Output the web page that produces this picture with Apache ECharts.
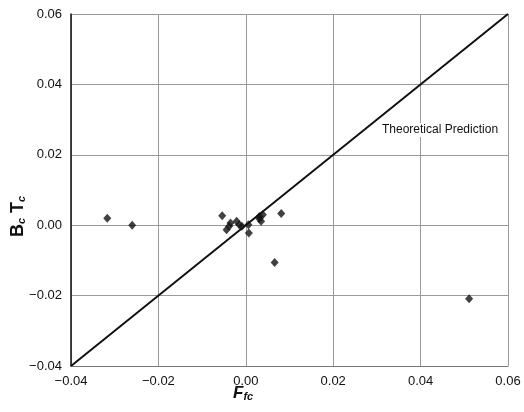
<!DOCTYPE html>
<html><head><meta charset="utf-8">
<script src="https://cdn.jsdelivr.net/npm/echarts@6/dist/echarts.min.js"></script>
<style>html,body{margin:0;padding:0;background:#fff}#c{width:524px;height:412px}</style>
</head><body><div id="c"></div>
<script>
const xTicks = [-0.04, -0.02, 0.00, 0.02, 0.04, 0.06];
const yTicks = [-0.04, -0.02, 0.00, 0.02, 0.04, 0.06];
const ffc = [-0.0317, -0.0260, 0.0511, 0.0066, 0.0081, -0.0054, -0.0044, -0.0038, -0.0035, -0.0021, -0.0015, -0.0009, 0.0006, 0.0007, 0.0031, 0.0035, 0.0039, 0.0031];
const bctc = [0.0020, 0.0000, -0.0209, -0.0106, 0.0033, 0.0027, -0.0013, -0.0003, 0.0006, 0.0011, 0.0001, -0.0003, 0.0001, -0.0022, 0.0018, 0.0011, 0.0030, 0.0025];
const lineX = [-0.04, 0.06];
const lineY = [-0.04, 0.06];
const lineLabel = 'Theoretical Prediction';

const fmt = v => v.toFixed(2).replace('-', '\u2212');
const chart = echarts.init(document.getElementById('c'));
chart.setOption({
  animation: false,
  grid: { left: 71, right: 16, top: 14, bottom: 46 },
  xAxis: {
    type: 'value', min: xTicks[0], max: xTicks[xTicks.length-1], interval: 0.02,
    axisLine: { show: true, onZero: false, lineStyle: { color: '#777', width: 1 } },
    axisTick: { show: false },
    axisLabel: { formatter: fmt, color: '#111', fontSize: 13, fontFamily: 'Liberation Sans', margin: 9 },
    splitLine: { show: true, lineStyle: { color: '#9a9a9a', width: 1 } }
  },
  yAxis: {
    type: 'value', min: yTicks[0], max: yTicks[yTicks.length-1], interval: 0.02,
    axisLine: { show: true, onZero: false, lineStyle: { color: '#111', width: 1.5 } },
    axisTick: { show: false },
    axisLabel: { formatter: fmt, color: '#111', fontSize: 13, fontFamily: 'Liberation Sans', margin: 9 },
    splitLine: { show: true, lineStyle: { color: '#9a9a9a', width: 1 } }
  },
  series: [
    { type: 'line', data: lineX.map((x,i)=>[x,lineY[i]]), symbol: 'none',
      lineStyle: { color: '#111', width: 2 }, z: 3 },
    { type: 'scatter', data: ffc.map((x,i)=>[x,bctc[i]]), symbol: 'diamond', symbolSize: [8,9],
      itemStyle: { color: '#111' }, z: 4 }
  ],
  graphic: [
    { type: 'text', left: 381, top: 123, z: 10,
      style: { text: lineLabel, fill: '#111', font: '12px "Liberation Sans"', backgroundColor: '#fff', padding: [1,1] } },
    { type: 'text', left: 233, top: 385, z: 10,
      style: { text: '{m|F}{s|fc}', rich: {
        m: { font: 'italic bold 17px "Liberation Sans"', fill: '#111' },
        s: { font: 'italic bold 11px "Liberation Sans"', fill: '#111', padding: [7,0,0,0] } } } },
    { type: 'text', x: 9, y: 237, rotation: Math.PI/2, z: 10,
      style: { text: '{m|B}{s|c}{m| T}{s|c}', rich: {
        m: { font: 'bold 18px "Liberation Sans"', fill: '#111' },
        s: { font: 'italic bold 11px "Liberation Sans"', fill: '#111', padding: [7,0,0,0] } } } }
  ]
});
</script></body></html>
